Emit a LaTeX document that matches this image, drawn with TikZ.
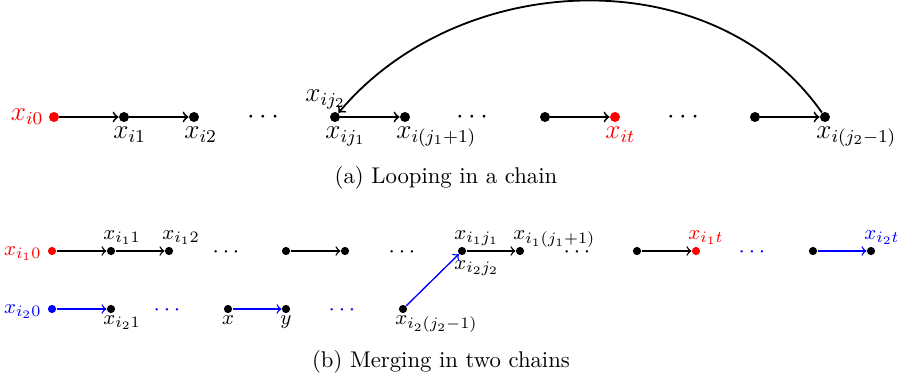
\documentclass[tikz,border=0pt]{standalone}
\usetikzlibrary{calc}
\begin{document}
\begin{tikzpicture}[x=0.44pt,y=-0.44pt,
  dotA/.style={circle,fill=black,inner sep=0pt,minimum size=4.4pt},
  dotB/.style={circle,fill=black,inner sep=0pt,minimum size=3.6pt},
  arrA/.style={->,line width=0.8pt},
  arrB/.style={->,line width=0.6pt},
  lblA/.style={inner sep=0pt,font=\large},
  lblB/.style={inner sep=0pt,font=\fontsize{9.5}{11}\selectfont},
  dotsA/.style={inner sep=0pt,anchor=base,font=\large},
  dotsB/.style={inner sep=0pt,anchor=base},
  captext/.style={inner sep=0pt,anchor=base}]
\useasboundingbox (0,0) rectangle (897,380);

% ---------- (a) ----------
\node[dotA,fill=red] (a0) at (54,117) {};
\node[dotA] (a1) at (124,117) {};
\node[dotA] (a2) at (194,117) {};
\node[dotsA] (ad1) at (263,123) {$\cdots$};
\node[dotA] (aj1) at (335,117) {};
\node[dotA] (aj1p) at (405,117) {};
\node[dotsA] (ad2) at (472,123) {$\cdots$};
\node[dotA] (ab) at (545,117) {};
\node[dotA,fill=red] (at) at (615,117) {};
\node[dotsA] (ad3) at (683,123) {$\cdots$};
\node[dotA] (ac) at (755,117) {};
\node[dotA] (aj2m) at (825,117) {};

\draw[arrA] (a0) -- (a1);
\draw[arrA] (a1) -- (a2);
\draw[arrA] (aj1) -- (aj1p);
\draw[arrA] (ab) -- (at);
\draw[arrA] (ac) -- (aj2m);
\draw[arrA] (aj2m) to[out=125,in=50] (aj1);

\node[lblA,anchor=base east,text=red] (la0) at ($(a0)+(-10,3)$) {$x_{i0}$};
\node[lblA,anchor=base west] (la1) at ($(a1)+(-11,21)$) {$x_{i1}$};
\node[lblA,anchor=base west] (la2) at ($(a2)+(-10,21)$) {$x_{i2}$};
\node[lblA,anchor=base west] (laj1) at ($(aj1)+(-10,21)$) {$x_{ij_1}$};
\node[lblA,anchor=base west] (laj2) at ($(aj1)+(-30,-16)$) {$x_{ij_2}$};
\node[lblA,anchor=base west] (laj1p) at ($(aj1p)+(-9,21)$) {$x_{i(j_1+1)}$};
\node[lblA,anchor=base west,text=red] (lat) at ($(at)+(-10,21)$) {$x_{it}$};
\node[lblA,anchor=base west] (laj2m) at ($(aj2m)+(-9,21)$) {$x_{i(j_2-1)}$};

\node[captext] (capa) at (446,183) {(a) Looping in a chain};

% ---------- (b) ----------
\node[dotB,fill=red] (b0) at (52,251) {};
\node[dotB] (b1) at (111,251) {};
\node[dotB] (b2) at (169,251) {};
\node[dotsB] (bd1) at (226,257) {$\cdots$};
\node[dotB] (b3) at (286,251) {};
\node[dotB] (b4) at (345,251) {};
\node[dotsB] (bd2) at (402,257) {$\cdots$};
\node[dotB] (bj1) at (462,251) {};
\node[dotB] (bj1p) at (520,251) {};
\node[dotsB] (bd3) at (577,257) {$\cdots$};
\node[dotB] (b5) at (637,251) {};
\node[dotB,fill=red] (bt) at (696,251) {};
\node[dotsB,text=blue] (bd4) at (752,257) {$\cdots$};
\node[dotB] (b6) at (813,251) {};
\node[dotB] (b2t) at (871,251) {};

\node[dotB,fill=blue] (c0) at (52,309) {};
\node[dotB] (c1) at (111,309) {};
\node[dotsB,text=blue] (cd1) at (167,315) {$\cdots$};
\node[dotB] (cx) at (228,309) {};
\node[dotB] (cy) at (286,309) {};
\node[dotsB,text=blue] (cd2) at (342,315) {$\cdots$};
\node[dotB] (cj2m) at (403,309) {};

\draw[arrB] (b0) -- (b1);
\draw[arrB] (b1) -- (b2);
\draw[arrB] (b3) -- (b4);
\draw[arrB] (bj1) -- (bj1p);
\draw[arrB] (b5) -- (bt);
\draw[arrB,blue] (b6) -- (b2t);
\draw[arrB,blue] (c0) -- (c1);
\draw[arrB,blue] (cx) -- (cy);
\draw[arrB,blue] (cj2m) -- (bj1);

\node[lblB,anchor=base east,text=red] (lb0) at ($(b0)+(-10,4)$) {$x_{i_10}$};
\node[lblB,anchor=base west] (lb1) at ($(b1)+(-8,-12)$) {$x_{i_11}$};
\node[lblB,anchor=base west] (lb2) at ($(b2)+(-7,-12)$) {$x_{i_12}$};
\node[lblB,anchor=base west] (lbj1) at ($(bj1)+(-8,-12)$) {$x_{i_1j_1}$};
\node[lblB,anchor=base west] (lbj2) at ($(bj1)+(-8,18)$) {$x_{i_2j_2}$};
\node[lblB,anchor=base west] (lbj1p) at ($(bj1p)+(-7,-12)$) {$x_{i_1(j_1+1)}$};
\node[lblB,anchor=base west,text=red] (lbt) at ($(bt)+(-8,-12)$) {$x_{i_1t}$};
\node[lblB,anchor=base west,text=blue] (lb2t) at ($(b2t)+(-7,-12)$) {$x_{i_2t}$};

\node[lblB,anchor=base east,text=blue] (lc0) at ($(c0)+(-10,4)$) {$x_{i_20}$};
\node[lblB,anchor=base west] (lc1) at ($(c1)+(-8,15)$) {$x_{i_21}$};
\node[lblB,anchor=base] (lcx) at ($(cx)+(0,15)$) {$x$};
\node[lblB,anchor=base] (lcy) at ($(cy)+(0,15)$) {$y$};
\node[lblB,anchor=base west] (lcj2m) at ($(cj2m)+(-8,15)$) {$x_{i_2(j_2-1)}$};

\node[captext] (capb) at (441,367) {(b) Merging in two chains};
\end{tikzpicture}
\end{document}
